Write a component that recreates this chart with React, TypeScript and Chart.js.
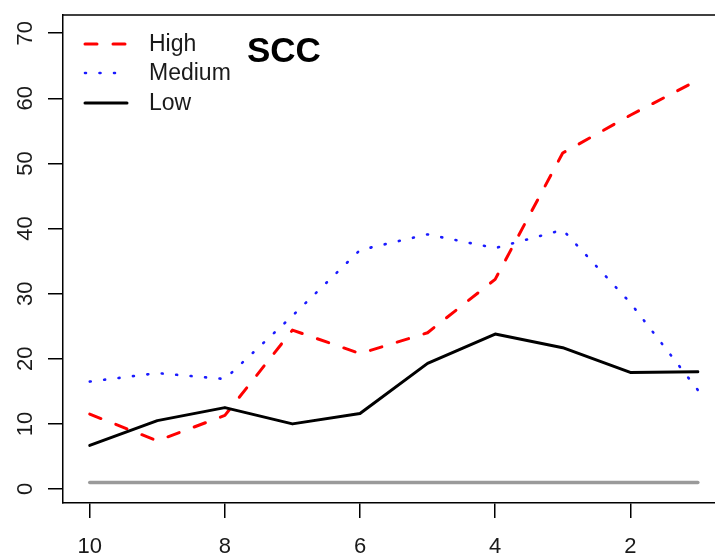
import React, { useEffect, useRef } from 'react';
import { Chart, registerables } from 'chart.js';

Chart.register(...registerables);

const xValues = [10, 9, 8, 7, 6, 5, 4, 3, 2, 1];
const highValues = [11.5, 7.4, 11.3, 24.4, 20.8, 24.0, 32.2, 51.6, 57.4, 62.8];
const mediumValues = [16.5, 17.8, 16.9, 26.6, 36.7, 39.1, 37.0, 39.8, 28.6, 15.2];
const lowValues = [6.7, 10.5, 12.5, 10.0, 11.6, 19.3, 23.8, 21.7, 17.9, 18.0];
const baselineValues = [1, 1, 1, 1, 1, 1, 1, 1, 1, 1];
const xTickValues = [10, 8, 6, 4, 2];
const yTickValues = [0, 10, 20, 30, 40, 50, 60, 70];
const legendLabels = ['High', 'Medium', 'Low'];
const chartTitle = 'SCC';

const FONT = "'Liberation Sans', Arial, Helvetica, sans-serif";

const seriesStyles = [
  { color: '#ff0000', dash: [12, 16], width: 3 },
  { color: '#1a1aff', dash: [1, 13.5], width: 2.6 },
  { color: '#000000', dash: [] as number[], width: 3 },
];

function toPoints(values: number[]) {
  return xValues.map((x, i) => ({ x, y: values[i] }));
}

export default function App() {
  const ref = useRef<HTMLCanvasElement>(null);

  useEffect(() => {
    document.body.style.margin = '0';
    const canvas = ref.current;
    if (!canvas) return;

    const overlay = {
      id: 'overlay',
      afterDraw(chart: any) {
        const ctx = chart.ctx as CanvasRenderingContext2D;
        const a = chart.chartArea;
        ctx.save();
        // top border of the box
        ctx.strokeStyle = '#000';
        ctx.lineWidth = 1.5;
        ctx.setLineDash([]);
        ctx.beginPath();
        ctx.moveTo(a.left, a.top);
        ctx.lineTo(a.right + 2, a.top);
        ctx.stroke();

        // legend
        const x0 = a.left + 22;
        const x1 = a.left + 64;
        const tx = a.left + 86;
        const rowY = [a.top + 29, a.top + 58, a.top + 88];
        ctx.lineCap = 'round';
        legendLabels.forEach((lab, i) => {
          const s = seriesStyles[i];
          ctx.strokeStyle = s.color;
          ctx.lineWidth = s.width;
          ctx.setLineDash(s.dash);
          ctx.beginPath();
          ctx.moveTo(x0, rowY[i]);
          ctx.lineTo(x1, rowY[i]);
          ctx.stroke();
          ctx.setLineDash([]);
          ctx.fillStyle = '#1a1a1a';
          ctx.font = `23px ${FONT}`;
          ctx.textAlign = 'left';
          ctx.textBaseline = 'middle';
          ctx.fillText(lab, tx, rowY[i] + 1);
        });

        // title
        ctx.fillStyle = '#000';
        ctx.font = `bold 35px ${FONT}`;
        ctx.textAlign = 'left';
        ctx.textBaseline = 'middle';
        ctx.fillText(chartTitle, a.left + 184, a.top + 37);
        ctx.restore();
      },
    };

    const lineDs = (label: string, values: number[], color: string, width: number, dash: number[]) => ({
      label,
      data: toPoints(values),
      borderColor: color,
      backgroundColor: color,
      borderWidth: width,
      borderDash: dash,
      borderCapStyle: 'round' as const,
      borderJoinStyle: 'round' as const,
      pointRadius: 0,
      tension: 0,
      fill: false,
    });

    const chart = new Chart(canvas, {
      type: 'line',
      data: {
        datasets: [
          lineDs('baseline', baselineValues, '#9a9a9a', 3.5, []),
          lineDs('Low', lowValues, seriesStyles[2].color, seriesStyles[2].width, seriesStyles[2].dash),
          lineDs('Medium', mediumValues, seriesStyles[1].color, seriesStyles[1].width, seriesStyles[1].dash),
          lineDs('High', highValues, seriesStyles[0].color, seriesStyles[0].width, seriesStyles[0].dash),
        ],
      },
      options: {
        animation: false,
        responsive: false,
        layout: { padding: { top: 15, left: 0, right: 0, bottom: 0 } },
        plugins: {
          legend: { display: false },
          tooltip: { enabled: false },
          title: { display: false },
        },
        scales: {
          x: {
            type: 'linear',
            reverse: true,
            min: 0.746,
            max: 10.396,
            afterBuildTicks: (s: any) => {
              s.ticks = xTickValues.map((v) => ({ value: v }));
            },
            afterFit: (s: any) => {
              s.height = 52;
              s.paddingLeft = 0;
              s.paddingRight = 0;
            },
            grid: {
              drawOnChartArea: false,
              drawTicks: true,
              tickLength: 15,
              color: '#000',
              lineWidth: 1.5,
            },
            border: { display: true, color: '#000', width: 1.5 },
            ticks: {
              autoSkip: false,
              maxRotation: 0,
              minRotation: 0,
              padding: 16,
              color: '#1a1a1a',
              font: { family: FONT, size: 22 },
              callback: (v: any) => String(v),
            },
          },
          y: {
            type: 'linear',
            min: -2.15,
            max: 72.8,
            afterBuildTicks: (s: any) => {
              s.ticks = yTickValues.map((v) => ({ value: v }));
            },
            afterFit: (s: any) => {
              s.width = 63;
              s.paddingTop = 0;
              s.paddingBottom = 0;
            },
            grid: {
              drawOnChartArea: false,
              drawTicks: true,
              tickLength: 15,
              color: '#000',
              lineWidth: 1.5,
            },
            border: { display: true, color: '#000', width: 1.5 },
            ticks: {
              autoSkip: false,
              minRotation: 90,
              maxRotation: 90,
              crossAlign: 'center',
              padding: 10,
              color: '#1a1a1a',
              font: { family: FONT, size: 22 },
              callback: (v: any) => String(v),
            },
          },
        },
      },
      plugins: [overlay],
    });

    return () => {
      chart.destroy();
    };
  }, []);

  return <canvas ref={ref} width={715} height={555} style={{ display: 'block' }} />;
}
